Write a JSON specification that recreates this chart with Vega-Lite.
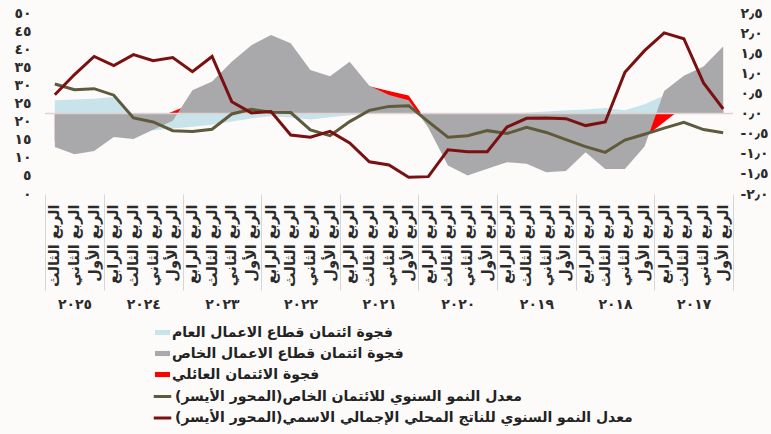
{
  "$schema": "https://vega.github.io/schema/vega-lite/v6.json",
  "width": 688,
  "height": 181,
  "autosize": {"type": "none"},
  "padding": {"left": 45, "top": 13, "right": 38, "bottom": 240},
  "background": "#fcfbfa",
  "config": {
    "view": {"stroke": null},
    "font": "DejaVu Sans",
    "locale": {
      "number": {
        "decimal": "٫",
        "thousands": "٬",
        "grouping": [3],
        "currency": ["", ""],
        "numerals": ["٠", "١", "٢", "٣", "٤", "٥", "٦", "٧", "٨", "٩"],
        "minus": "-"
      }
    },
    "axis": {"grid": false, "labelFont": "DejaVu Sans", "labelFontWeight": "bold", "labelColor": "#2b2b2b", "labelOverlap": false, "labelFlush": false, "labelBound": false, "tickCount": 200},
    "legend": {"labelFont": "DejaVu Sans", "labelFontWeight": "bold", "labelColor": "#222222"}
  },
  "data": {
    "values": [
      {"n": 1, "pub": 0.40, "priv": 1.67, "hh": 0.20, "credit": 16.9, "gdp": 23.5},
      {"n": 2, "pub": 0.42, "priv": 1.17, "hh": 0.20, "credit": 17.8, "gdp": 30.7},
      {"n": 3, "pub": 0.45, "priv": 0.94, "hh": 0.17, "credit": 19.8, "gdp": 42.9},
      {"n": 4, "pub": 0.45, "priv": 0.56, "hh": -0.21, "credit": 18.2, "gdp": 44.5},
      {"n": 5, "pub": 0.23, "priv": -0.82, "hh": -0.59, "credit": 16.5, "gdp": 39.6},
      {"n": 6, "pub": 0.08, "priv": -1.38, "hh": -0.60, "credit": 14.9, "gdp": 33.6},
      {"n": 7, "pub": 0.14, "priv": -1.38, "hh": -0.60, "credit": 11.5, "gdp": 19.9},
      {"n": 8, "pub": 0.10, "priv": -0.96, "hh": -0.60, "credit": 13.1, "gdp": 18.9},
      {"n": 9, "pub": 0.08, "priv": -1.43, "hh": -0.60, "credit": 15.0, "gdp": 20.8},
      {"n": 10, "pub": 0.05, "priv": -1.46, "hh": -0.55, "credit": 17.0, "gdp": 21.0},
      {"n": 11, "pub": 0.02, "priv": -1.25, "hh": -0.55, "credit": 18.4, "gdp": 20.9},
      {"n": 12, "pub": 0.00, "priv": -1.21, "hh": -0.50, "credit": 16.7, "gdp": 18.5},
      {"n": 13, "pub": -0.05, "priv": -1.37, "hh": -0.50, "credit": 17.5, "gdp": 11.7},
      {"n": 14, "pub": -0.10, "priv": -1.54, "hh": -0.45, "credit": 16.1, "gdp": 11.7},
      {"n": 15, "pub": -0.10, "priv": -1.29, "hh": -0.40, "credit": 15.7, "gdp": 12.2},
      {"n": 16, "pub": 0.00, "priv": -0.35, "hh": -0.25, "credit": 20.0, "gdp": 4.8},
      {"n": 17, "pub": 0.00, "priv": 0.33, "hh": 0.45, "credit": 24.4, "gdp": 4.6},
      {"n": 18, "pub": 0.00, "priv": 0.46, "hh": 0.56, "credit": 24.2, "gdp": 8.0},
      {"n": 19, "pub": 0.00, "priv": 0.69, "hh": 0.68, "credit": 23.1, "gdp": 8.9},
      {"n": 20, "pub": -0.04, "priv": 1.29, "hh": 0.66, "credit": 20.0, "gdp": 14.1},
      {"n": 21, "pub": -0.09, "priv": 0.93, "hh": 0.64, "credit": 16.1, "gdp": 17.3},
      {"n": 22, "pub": -0.15, "priv": 1.08, "hh": 0.62, "credit": 17.7, "gdp": 15.7},
      {"n": 23, "pub": -0.10, "priv": 1.75, "hh": 0.60, "credit": 22.5, "gdp": 16.3},
      {"n": 24, "pub": -0.07, "priv": 1.95, "hh": 0.55, "credit": 22.6, "gdp": 22.8},
      {"n": 25, "pub": -0.12, "priv": 1.70, "hh": 0.50, "credit": 23.4, "gdp": 22.4},
      {"n": 26, "pub": -0.20, "priv": 1.29, "hh": 0.45, "credit": 22.1, "gdp": 25.5},
      {"n": 27, "pub": -0.28, "priv": 0.80, "hh": 0.35, "credit": 17.9, "gdp": 38.0},
      {"n": 28, "pub": -0.33, "priv": 0.58, "hh": 0.25, "credit": 17.3, "gdp": 33.8},
      {"n": 29, "pub": -0.37, "priv": -0.18, "hh": 0.05, "credit": 17.5, "gdp": 37.7},
      {"n": 30, "pub": -0.42, "priv": -0.40, "hh": -0.14, "credit": 19.9, "gdp": 36.8},
      {"n": 31, "pub": -0.13, "priv": -0.63, "hh": -0.40, "credit": 21.0, "gdp": 38.5},
      {"n": 32, "pub": 0.41, "priv": -0.58, "hh": -0.50, "credit": 27.3, "gdp": 35.5},
      {"n": 33, "pub": 0.37, "priv": -0.93, "hh": -0.60, "credit": 29.1, "gdp": 38.0},
      {"n": 34, "pub": 0.35, "priv": -1.01, "hh": -0.70, "credit": 28.8, "gdp": 33.0},
      {"n": 35, "pub": 0.33, "priv": -0.83, "hh": -0.68, "credit": 30.4, "gdp": 27.4}
    ]
  },
  "layer": [
    {
      "layer": [
        {
          "mark": {"type": "area", "opacity": 1},
          "encoding": {
            "x": {"field": "n", "type": "quantitative", "scale": {"domain": [0.5, 35.5], "reverse": true, "nice": false, "zero": false},
              "axis": {"orient": "bottom", "title": null, "tickCount": 200, "values": [1,2,3,4,5,6,7,8,9,10,11,12,13,14,15,16,17,18,19,20,21,22,23,24,25,26,27,28,29,30,31,32,33,34,35],
                "labelExpr": "['','الربع الأول','الربع الثاني','الربع الثالث','الربع الرابع'][(datum.value-1)%4+1]",
                "labelAngle": -90, "ticks": false, "domain": false, "labelPadding": 10, "labelFontSize": 14.5, "labelFlush": false, "labelOverlap": false, "labelBound": false}},
            "y": {"field": "hh", "type": "quantitative", "stack": null, "scale": {"domain": [-2, 2.5], "nice": false, "zero": false},
              "axis": {"orient": "right", "title": null, "tickCount": 200, "values": [-2,-1.5,-1,-0.5,0,0.5,1,1.5,2,2.5], "format": ".1f", "ticks": false, "domain": false, "labelPadding": 7, "labelFontSize": 14, "labelOverlap": false}},
            "fill": {"datum": "فجوة الائتمان العائلي", "type": "nominal",
              "scale": {"domain": ["فجوة ائتمان قطاع الاعمال العام", "فجوة ائتمان قطاع الاعمال الخاص", "فجوة الائتمان العائلي"], "range": ["#c9e3ea", "#a9a9ab", "#ff0000"]},
              "legend": {"orient": "none", "legendX": 110, "legendY": 312, "title": null, "symbolType": "M-1,-0.34H1V0.34H-1Z", "symbolSize": 225, "symbolStrokeWidth": 0, "labelFontSize": 14, "labelLimit": 700, "rowPadding": 6, "labelOffset": 2, "padding": 0}}
          }
        },
        {
          "mark": {"type": "area", "opacity": 1},
          "encoding": {
            "x": {"field": "n", "type": "quantitative", "scale": {"domain": [0.5, 35.5], "reverse": true, "nice": false, "zero": false}},
            "y": {"field": "pub", "type": "quantitative", "stack": null},
            "fill": {"datum": "فجوة ائتمان قطاع الاعمال العام", "type": "nominal"}
          }
        },
        {
          "mark": {"type": "area", "opacity": 1},
          "encoding": {
            "x": {"field": "n", "type": "quantitative", "scale": {"domain": [0.5, 35.5], "reverse": true, "nice": false, "zero": false}},
            "y": {"field": "priv", "type": "quantitative", "stack": null},
            "fill": {"datum": "فجوة ائتمان قطاع الاعمال الخاص", "type": "nominal"}
          }
        },
        {
          "data": {"values": [{"zero": 0}]},
          "mark": {"type": "rule", "color": "#ddd3d3", "strokeWidth": 1.5},
          "encoding": {"y": {"field": "zero", "type": "quantitative"}}
        }
      ]
    },
    {
      "encoding": {
        "x": {"field": "n", "type": "quantitative", "scale": {"domain": [0.5, 35.5], "reverse": true, "nice": false, "zero": false},
          "axis": {"orient": "bottom", "title": null, "tickCount": 200,
            "values": [0.5, 2.5, 4.5, 6.5, 8.5, 10.5, 12.5, 14.5, 16.5, 18.5, 20.5, 22.5, 24.5, 26.5, 28.5, 30.5, 32.5, 34, 35.5],
            "tickSize": 96, "tickColor": "#d6d6d6", "tickWidth": 1,
            "tickOpacity": {"condition": {"test": "(datum.value - 0.5) % 4 === 0 || datum.value === 35.5", "value": 1}, "value": 0},
            "labelExpr": "(datum.value - 0.5) % 4 === 0 || datum.value === 35.5 ? '' : ['٢٠١٧','٢٠١٨','٢٠١٩','٢٠٢٠','٢٠٢١','٢٠٢٢','٢٠٢٣','٢٠٢٤','٢٠٢٥'][floor((datum.value-1)/4)]",
            "labelAngle": 0, "labelPadding": 7, "labelFontSize": 14, "domain": false, "labelFlush": false, "labelOverlap": false, "labelBound": false}}
      },
      "layer": [
        {
          "mark": {"type": "line", "strokeWidth": 3},
          "encoding": {
            "y": {"field": "credit", "type": "quantitative", "scale": {"domain": [0, 50], "nice": false},
              "axis": {"orient": "left", "title": null, "tickCount": 200, "values": [0,5,10,15,20,25,30,35,40,45,50], "format": "d", "ticks": false, "domain": false, "labelPadding": 14, "labelFontSize": 14, "labelOverlap": false}},
            "stroke": {"datum": "معدل النمو السنوي للائتمان الخاص(المحور الأيسر)", "type": "nominal",
              "scale": {"domain": ["معدل النمو السنوي للائتمان الخاص(المحور الأيسر)", "معدل النمو السنوي للناتج المحلي الإجمالي الاسمي(المحور الأيسر)"], "range": ["#5e5a3b", "#7a1010"]},
              "legend": {"orient": "none", "legendX": 107, "legendY": 373, "title": null, "symbolType": "stroke", "symbolSize": 306, "symbolStrokeWidth": 3, "labelFontSize": 14, "labelLimit": 700, "rowPadding": 3.5, "labelOffset": 2, "padding": 0}}
          }
        },
        {
          "mark": {"type": "line", "strokeWidth": 3},
          "encoding": {
            "y": {"field": "gdp", "type": "quantitative"},
            "stroke": {"datum": "معدل النمو السنوي للناتج المحلي الإجمالي الاسمي(المحور الأيسر)", "type": "nominal"}
          }
        }
      ]
    }
  ],
  "resolve": {"scale": {"x": "independent", "y": "independent"}}
}
